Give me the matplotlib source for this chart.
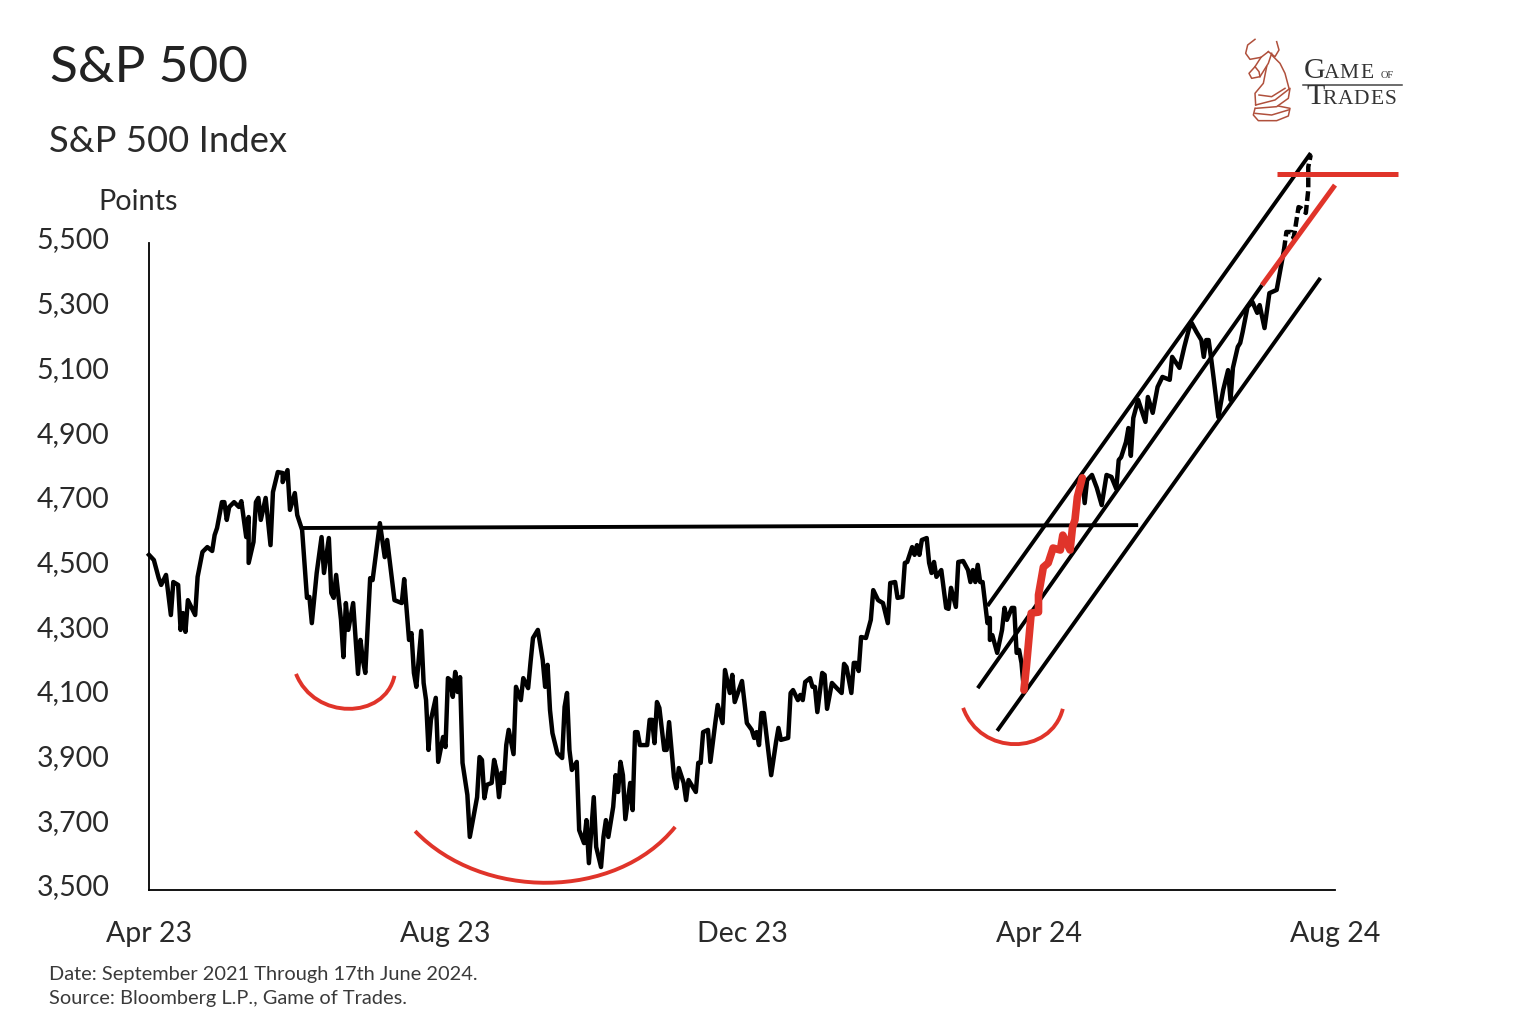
import numpy as np
import matplotlib
matplotlib.use("Agg")
import matplotlib.pyplot as plt
from matplotlib.path import Path
from matplotlib.patches import PathPatch
from matplotlib.transforms import ScaledTranslation

W, H = 1526, 1034
RED = "#e0342a"
plt.rcParams["font.family"] = ["Lato", "DejaVu Sans"]

# days since 1 Apr 2023, S&P 500 points
days = [0, 2, 4, 5, 7, 9, 10, 12, 13, 14, 15, 16, 19, 20, 22, 24, 26, 27, 28, 30, 31, 32, 33, 35, 37, 38, 40, 41, 41, 43,
        44, 45, 46, 48, 50, 51, 53, 55, 55, 57, 58, 60, 61, 63, 65, 66, 67, 69, 71, 72, 74, 75, 76, 77, 79, 80, 81, 82, 84, 86,
        87, 88, 89, 91, 92, 95, 97, 98, 101, 104, 105, 107, 108, 109, 110, 112, 113, 114, 115, 116, 118, 119, 121, 122, 123, 124, 125, 126, 127, 128,
        129, 131, 132, 135, 136, 137, 138, 139, 141, 142, 143, 144, 145, 146, 147, 148, 150, 151, 153, 154, 156, 157, 158, 160, 162, 163, 164, 165, 166, 168,
        170, 171, 172, 173, 174, 176, 177, 179, 180, 181, 183, 184, 186, 187, 188, 189, 191, 192, 193, 194, 195, 196, 198, 199, 200, 201, 202, 205, 206, 207,
        208, 209, 210, 212, 213, 214, 216, 217, 218, 220, 221, 222, 225, 226, 227, 228, 230, 231, 233, 234, 236, 237, 239, 240, 241, 244, 246, 248, 249, 250,
        251, 252, 253, 256, 258, 259, 260, 263, 264, 265, 267, 268, 269, 270, 272, 273, 274, 275, 277, 278, 279, 281, 283, 285, 286, 287, 289, 290, 291, 292,
        293, 295, 297, 298, 300, 302, 304, 305, 307, 308, 310, 311, 312, 314, 315, 316, 317, 318, 320, 321, 322, 323, 324, 326, 328, 329, 330, 332, 333, 335,
        337, 338, 339, 340, 341, 342, 343, 345, 346, 346, 347, 349, 351, 352, 353, 355, 356, 357, 358, 359, 360,
        361, 363, 366, 366, 368, 370, 372, 375, 376, 379, 380, 381, 382, 384,
        385, 386, 388, 390, 392, 394, 396, 398, 399, 400, 402, 403, 404, 405, 407, 410, 411, 413, 415, 417, 420, 421, 424, 426, 428, 429, 431, 433, 434, 435,
        436, 437, 438, 440, 442, 444, 445, 446, 448, 449, 450, 452, 454, 456, 457, 459, 461, 464, 467,
        468, 470, 471, 473, 474, 476, 477, 477, 478]
points = [4536, 4520, 4464, 4443, 4474, 4350, 4452, 4443, 4304, 4356, 4298, 4396, 4350, 4468, 4545, 4560, 4548, 4597, 4619, 4699, 4699, 4644, 4684, 4699, 4684, 4702, 4591, 4653, 4511, 4576,
          4699, 4712, 4644, 4712, 4566, 4730, 4792, 4789, 4761, 4798, 4675, 4727, 4659, 4613, 4403, 4406, 4325, 4480, 4591, 4480, 4588, 4418, 4403, 4474, 4335, 4220, 4387, 4304, 4387, 4168,
          4273, 4211, 4171, 4464, 4458, 4634, 4529, 4582, 4396, 4387, 4461, 4273, 4294, 4171, 4128, 4301, 4140, 4087, 3933, 4026, 4094, 3896, 3973, 3942, 4155, 4149, 4097, 4174, 4112, 4158,
          3893, 3794, 3664, 3787, 3911, 3902, 3784, 3825, 3831, 3902, 3871, 3787, 3862, 3831, 3948, 3995, 3920, 4128, 4087, 4155, 4124, 4205, 4279, 4304, 4211, 4128, 4196, 4056, 3985, 3923,
          3908, 4066, 4109, 3933, 3871, 3896, 3685, 3645, 3716, 3583, 3787, 3633, 3571, 3664, 3716, 3664, 3757, 3855, 3803, 3896, 3855, 3719, 3831, 3747, 3988, 3988, 3948, 3948, 4026, 4026,
          3954, 4081, 4063, 3933, 3933, 4019, 3849, 3815, 3877, 3831, 3778, 3840, 3803, 3893, 3893, 3988, 3995, 3896, 4016, 4072, 4016, 4180, 4109, 4165, 4081, 4146, 4016, 3995, 3970, 3988,
          3948, 4047, 4047, 3855, 3957, 4001, 3964, 3970, 4109, 4118, 4087, 4103, 4087, 4143, 4155, 4128, 4128, 4050, 4171, 4165, 4060, 4140, 4124, 4109, 4199, 4189, 4109, 4202, 4202, 4177,
          4282, 4279, 4335, 4427, 4396, 4387, 4325, 4449, 4452, 4403, 4406, 4511, 4514, 4560, 4536, 4566, 4536, 4582, 4588, 4511, 4480, 4514, 4468, 4489, 4372, 4369, 4434, 4375, 4514, 4517,
          4489, 4452, 4489, 4452, 4505, 4452, 4452, 4325, 4341, 4273, 4288, 4233, 4304, 4372, 4335, 4372, 4372, 4233, 4242, 4202, 4118,
          4189, 4356, 4359, 4412, 4498, 4511, 4557, 4551, 4597, 4551, 4622, 4644, 4715, 4774,
          4696, 4767, 4783, 4743, 4690, 4783, 4777, 4740, 4829, 4838, 4885, 4928, 4842, 4959, 5015, 4947, 5024, 4975, 5055, 5086, 5077, 5148, 5114, 5179, 5237, 5253, 5225, 5200, 5148, 5200,
          5200, 5145, 5086, 4962, 5046, 5107, 5015, 5114, 5179, 5191, 5225, 5302, 5318, 5284, 5308, 5237, 5345, 5355, 5478,
          5534, 5534, 5515, 5611, 5608, 5593, 5664, 5735, 5772]

# where the red run and the dashed projection start/stop
red_start_day, red_end_day = 360, 384
dash_start_day = 467

x_ticks = [0, 122, 244, 366, 488]
x_labels = ["Apr 23", "Aug 23", "Dec 23", "Apr 24", "Aug 24"]
y_ticks = [3500, 3700, 3900, 4100, 4300, 4500, 4700, 4900, 5100, 5300, 5500]

# annotation lines, (day, points)
neckline = [(63, 4619), (407, 4628)]
channel_upper = [(345, 4378), (478, 5778)]
channel_mid = [(341, 4124), (458, 5370)]
channel_lower = [(349, 3992), (482, 5392)]
red_resistance = [(464, 5713), (514, 5713)]
red_support = [(458, 5370), (488, 5679)]

# bowls under the lows: start, two control points, end
bowl_left = [(60.5, 4168), (68, 4025), (97, 4025), (101, 4162)]
bowl_mid = [(109.5, 3682), (137, 3467), (192, 3467), (216.5, 3695)]
bowl_right = [(335, 4063), (342, 3914), (371, 3914), (376, 4060)]

days = np.array(days)
points = np.array(points)


def px_text(x, y, s, **kw):
    fig.text(x / W, 1 - y / H, s, va="baseline", **kw)


fig = plt.figure(figsize=(W / 100, H / 100), dpi=100)
ax = fig.add_axes([149 / W, (H - 890) / H, (1335 - 149) / W, (890 - 243) / H])
ax.set_xlim(0, 488)
ax.set_ylim(3500, 5500)

ax.plot(days[days <= dash_start_day], points[days <= dash_start_day], color="black", lw=3.2,
        solid_joinstyle="round", clip_on=False, zorder=3)
ax.plot(days[days >= dash_start_day], points[days >= dash_start_day], color="black", lw=3.2,
        dashes=(2.2, 0.9), clip_on=False, zorder=3)
red_run = (days >= red_start_day) & (days <= red_end_day)
ax.plot(days[red_run], points[red_run], color=RED, lw=5.5, solid_capstyle="round",
        solid_joinstyle="round", clip_on=False, zorder=4)

for line in [neckline, channel_upper, channel_mid, channel_lower]:
    xs, ys = zip(*line)
    ax.plot(xs, ys, color="black", lw=2.8, solid_capstyle="butt", clip_on=False, zorder=2)
for line in [red_resistance, red_support]:
    xs, ys = zip(*line)
    ax.plot(xs, ys, color=RED, lw=3.6, solid_capstyle="butt", clip_on=False, zorder=5)

for bowl in [bowl_left, bowl_mid, bowl_right]:
    codes = [Path.MOVETO, Path.CURVE4, Path.CURVE4, Path.CURVE4]
    ax.add_patch(PathPatch(Path(bowl, codes), fc="none", ec=RED, lw=2.8, clip_on=False, zorder=2))

ax.set_xticks(x_ticks)
ax.set_xticklabels(x_labels)
ax.set_yticks(y_ticks)
ax.set_yticklabels([f"{v:,}" for v in y_ticks])
ax.tick_params(axis="both", length=0, labelsize=20.5, labelcolor="#2a2a2a")
ax.tick_params(axis="x", pad=22.5)
ax.tick_params(axis="y", pad=28.5)
for lab in ax.get_yticklabels():
    lab.set_transform(lab.get_transform() + ScaledTranslation(0, 5 / 100, fig.dpi_scale_trans))
ax.spines["top"].set_visible(False)
ax.spines["right"].set_visible(False)
ax.spines["left"].set_linewidth(1.3)
ax.spines["bottom"].set_linewidth(1.3)

px_text(50, 82, "S&P 500", fontsize=37, color="#222222")
px_text(49, 152, "S&P 500 Index", fontsize=26.2, color="#2a2a2a")
px_text(98, 210, "Points", fontsize=20.8, color="#2a2a2a")
px_text(49, 980, "Date: September 2021 Through 17th June 2024.", fontsize=14.45, color="#3a3a3a")
px_text(49, 1004, "Source: Bloomberg L.P., Game of Trades.", fontsize=14.45, color="#3a3a3a")

# logo, drawn by hand in zoomed-crop units
logo = fig.add_axes([0, 0, 1, 1])
logo.set_xlim(0, W)
logo.set_ylim(H, 0)
logo.axis("off")
logo_strokes = [
    [(60, 28), (38, 45), (32, 70), (45, 88), (78, 82), (100, 65)],
    [(125, 35), (132, 60), (120, 80), (100, 65)],
    [(78, 82), (60, 110), (42, 130), (50, 145), (75, 140), (100, 100), (110, 70)],
    [(60, 110), (72, 125), (75, 140)],
    [(110, 75), (135, 100), (150, 130), (162, 175)],
    [(95, 110), (85, 160), (60, 190), (62, 225)],
    [(62, 225), (120, 210), (165, 175), (160, 205), (125, 230), (62, 235)],
    [(72, 195), (110, 200), (150, 175)],
    [(60, 235), (55, 255), (70, 272), (125, 272), (160, 258), (165, 235), (130, 228)],
    [(60, 250), (110, 255), (160, 240)],
]
for stroke in logo_strokes:
    sx, sy = zip(*stroke)
    logo.plot(1235 + np.array(sx) / 3, 30 + np.array(sy) / 3, color="#b0503c", lw=1.1)
logo.plot([1303, 1402], [85, 85], color="#444444", lw=1.1)

serif = "Liberation Serif"
logo_big = [(1304, 78, "G"), (1306, 104, "T")]
logo_small = [(1324, 78, "A"), (1339, 78, "M"), (1360, 78, "E"),
              (1322, 104, "R"), (1338, 104, "A"), (1353, 104, "D"), (1370, 104, "E"), (1385, 104, "S")]
for x, y, letter in logo_big:
    px_text(x, y, letter, fontsize=21.5, family=serif, color="#333333")
for x, y, letter in logo_small:
    px_text(x, y, letter, fontsize=15.5, family=serif, color="#333333")
px_text(1381, 78, "OF", fontsize=7.5, family=serif, color="#333333")

fig.savefig("out.png", dpi=100)
